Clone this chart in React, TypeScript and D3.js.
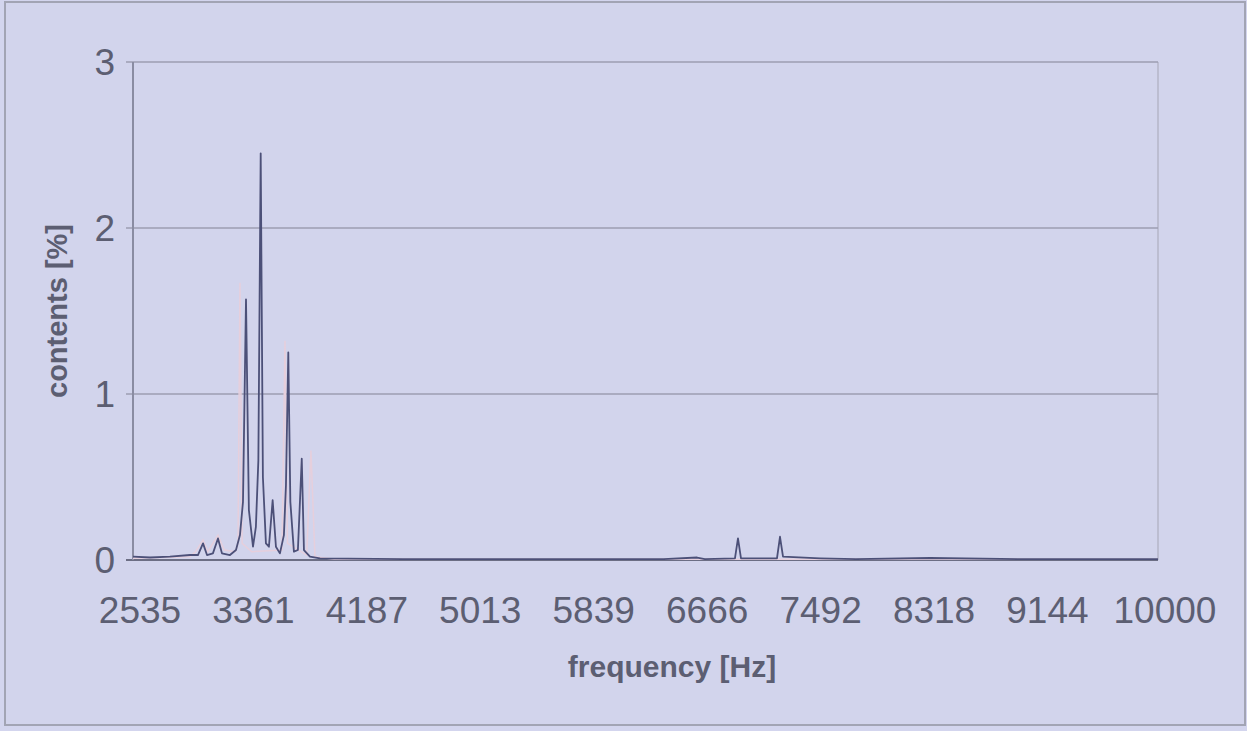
import React from "react";
import * as d3 from "d3";

// Dark (navy) series: frequency [Hz], contents [%]
const darkFreq = [
  2535, 2659, 2804, 2950, 3008, 3045, 3074, 3117, 3154, 3183, 3241, 3285, 3314, 3336, 3358,
  3379, 3409, 3430, 3448, 3465, 3481, 3503, 3525, 3552, 3576, 3605, 3634, 3649, 3666, 3681,
  3707, 3736, 3764, 3780, 3824, 3897, 4500, 5500, 6400, 6643, 6700, 6919, 6941, 6963, 7225,
  7247, 7269, 7539, 7800, 8340, 9000, 10000,
];
const darkVals = [
  0.02, 0.015, 0.02, 0.03, 0.03, 0.1, 0.03, 0.04, 0.13, 0.04, 0.03, 0.06, 0.15, 0.35, 1.57,
  0.3, 0.08, 0.2, 0.6, 2.45, 0.5, 0.1, 0.08, 0.36, 0.08, 0.04, 0.15, 0.45, 1.25, 0.35,
  0.05, 0.06, 0.61, 0.06, 0.02, 0.01, 0.005, 0.005, 0.005, 0.015, 0.005, 0.01, 0.13, 0.01, 0.01,
  0.14, 0.02, 0.01, 0.005, 0.012, 0.005, 0.005,
];

// Faint pink series
const pinkFreq = [
  2535, 2950, 2990, 3045, 3080, 3154, 3200, 3280, 3300, 3314, 3330, 3400, 3620, 3642, 3660,
  3800, 3831, 3860, 4000, 10000,
];
const pinkVals = [
  0.01, 0.02, 0.05, 0.12, 0.05, 0.15, 0.06, 0.05, 0.1, 1.67, 0.1, 0.05, 0.06, 1.32, 0.1,
  0.03, 0.66, 0.02, 0.005, 0.005,
];

const xTicks = [2535, 3361, 4187, 5013, 5839, 6666, 7492, 8318, 9144, 10000];
const yTicks = [0, 1, 2, 3];

const W = 1247;
const H = 731;

export default function App() {
  const x = d3.scaleLinear().domain([2535, 10000]).range([133, 1158]);
  const y = d3.scaleLinear().domain([0, 3]).range([560, 62]);

  const line = d3
    .line<[number, number]>()
    .x((d) => x(d[0]))
    .y((d) => y(d[1]));

  const dark = darkFreq.map((f, i) => [f, darkVals[i]] as [number, number]);
  const pink = pinkFreq.map((f, i) => [f, pinkVals[i]] as [number, number]);

  const font = "'Liberation Sans', Arial, sans-serif";
  const textColor = "#5c5e72";

  return (
    <svg
      width={W}
      height={H}
      style={{ position: "absolute", left: 0, top: 0 }}
      fontFamily={font}
    >
      <rect x={0} y={0} width={W} height={H} fill="#d3d5ee" />
      <rect x={5} y={2} width={1240} height={723} fill="#d2d4ec" stroke="#a2a4b4" strokeWidth={2} />

      {/* plot area border right */}
      <line x1={1158} x2={1158} y1={62} y2={560} stroke="#b4b6c8" strokeWidth={1.5} />

      {/* gridlines */}
      {yTicks.map((t) => (
        <line
          key={t}
          x1={126}
          x2={1158}
          y1={y(t)}
          y2={y(t)}
          stroke={t === 0 ? "#6c6e84" : "#9c9eb2"}
          strokeWidth={t === 0 ? 2 : 1.5}
        />
      ))}
      {/* y axis */}
      <line x1={133} x2={133} y1={62} y2={560} stroke="#8a8ca2" strokeWidth={2} />

      {/* y tick labels */}
      {yTicks.map((t) => (
        <text
          key={t}
          x={115}
          y={y(t) + 13}
          textAnchor="end"
          fontSize={37}
          fill={textColor}
        >
          {t}
        </text>
      ))}

      {/* x tick labels */}
      {xTicks.map((t) => (
        <text
          key={t}
          x={x(t) + 7}
          y={623}
          textAnchor="middle"
          fontSize={37}
          fill={textColor}
        >
          {t}
        </text>
      ))}

      {/* series */}
      <path d={line(pink) || ""} fill="none" stroke="#e6cfdc" strokeWidth={1.5} />
      <path d={line(dark) || ""} fill="none" stroke="#4c5078" strokeWidth={1.8} strokeLinejoin="round" />

      {/* axis titles */}
      <text
        x={672}
        y={677}
        textAnchor="middle"
        fontSize={30}
        fontWeight="bold"
        fill={textColor}
      >
        frequency [Hz]
      </text>
      <text
        transform="translate(67,311) rotate(-90)"
        textAnchor="middle"
        fontSize={29}
        fontWeight="bold"
        fill={textColor}
      >
        contents [%]
      </text>
    </svg>
  );
}
